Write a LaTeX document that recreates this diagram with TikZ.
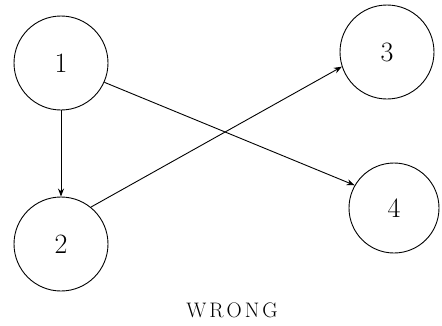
\documentclass[tikz,border=0pt]{standalone}
\usepackage{fontspec}
\usetikzlibrary{arrows.meta}
\begin{document}
\begin{tikzpicture}[x=1pt,y=-1pt,
  state/.style={draw,circle,line width=0.9pt,minimum size=94pt,inner sep=0pt,font=\fontsize{28}{28}\selectfont},
  link/.style={line width=0.9pt,-{Stealth[length=8pt,width=6pt]}},
  caption/.style={font=\fontsize{21}{21}\selectfont}]
\useasboundingbox (0,0) rectangle (442,325);
\node[state] (n1) at (61,63) {1};
\node[state] (n2) at (61,244) {2};
\node[state] (n3) at (387,52) {3};
\node[state,minimum size=90pt] (n4) at (394,208) {4};
\draw[link] (n1.270) -- (n2.90);
\draw[link] (n2.51) -- (n3.198);
\draw[link] (n1.-24) -- (n4.150);
\node[caption] (lbl) at (232,310) {W\kern3pt R\kern3pt O\kern3pt N\kern3pt G};
\end{tikzpicture}
\end{document}
